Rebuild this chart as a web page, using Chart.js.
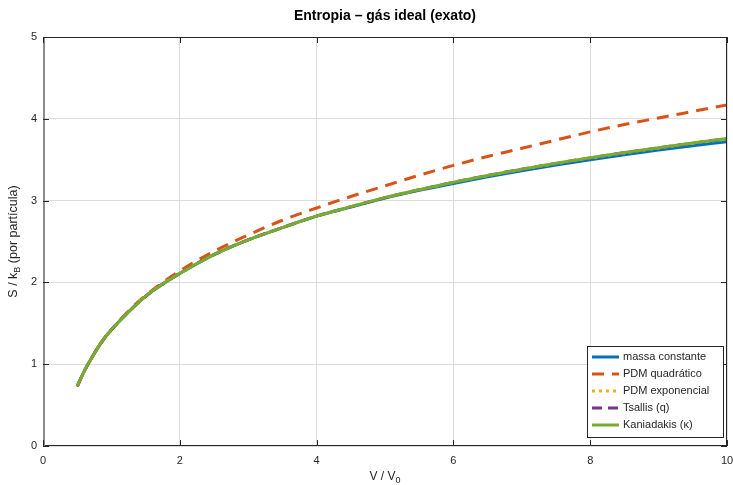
<!DOCTYPE html>
<html>
<head>
<meta charset="utf-8">
<script src="https://cdn.jsdelivr.net/npm/chart.js@4"></script>
<style>
  html, body { margin: 0; padding: 0; background: #fff; }
  #wrap { width: 733px; height: 485px; }
</style>
</head>
<body>
<div id="wrap"><canvas id="entropyChart"></canvas></div>
<script>
// values
const vRatio = [0.5, 0.6, 0.7, 0.8, 0.9, 1, 1.25, 1.5, 1.75, 2, 2.5, 3, 3.5, 4, 4.5, 5, 5.5, 6, 6.5, 7, 7.5, 8, 8.5, 9, 9.5, 10];
const sMassa = [0.73, 0.91, 1.06, 1.20, 1.32, 1.42, 1.64, 1.83, 1.98, 2.11, 2.34, 2.52, 2.67, 2.81, 2.92, 3.03, 3.125, 3.21, 3.29, 3.366, 3.435, 3.50, 3.56, 3.617, 3.67, 3.72];
const sPdmQuad = [0.73, 0.91, 1.06, 1.20, 1.32, 1.42, 1.65, 1.84, 2.00, 2.14, 2.38, 2.58, 2.76, 2.91, 3.05, 3.18, 3.31, 3.43, 3.54, 3.64, 3.74, 3.84, 3.93, 4.01, 4.09, 4.17];
const sPdmExp = [0.73, 0.91, 1.06, 1.20, 1.32, 1.42, 1.64, 1.83, 1.98, 2.11, 2.34, 2.52, 2.67, 2.81, 2.925, 3.035, 3.132, 3.222, 3.305, 3.381, 3.453, 3.52, 3.583, 3.642, 3.699, 3.753];
const sTsallis = [0.73, 0.91, 1.06, 1.20, 1.32, 1.42, 1.64, 1.83, 1.98, 2.11, 2.34, 2.52, 2.67, 2.81, 2.925, 3.035, 3.133, 3.223, 3.306, 3.383, 3.455, 3.522, 3.586, 3.645, 3.702, 3.756];
const sKaniadakis = [0.73, 0.91, 1.06, 1.20, 1.32, 1.42, 1.64, 1.83, 1.98, 2.11, 2.34, 2.52, 2.67, 2.81, 2.926, 3.036, 3.133, 3.224, 3.307, 3.384, 3.456, 3.523, 3.587, 3.647, 3.704, 3.758];
const xTicks = [0, 2, 4, 6, 8, 10];
const yTicks = [0, 1, 2, 3, 4, 5];

const FONT = '"Liberation Sans", Arial, sans-serif';
const pts = arr => vRatio.map((v, i) => ({ x: v, y: arr[i] }));

function series(label, arr, color, dash, order) {
  return {
    label: label,
    data: pts(arr),
    borderColor: color,
    backgroundColor: color,
    borderWidth: 3,
    borderDash: dash,
    pointRadius: 0,
    cubicInterpolationMode: 'monotone',
    order: order
  };
}

// box, inner ticks, titles and legend drawn by hand (octave look)
const decorPlugin = {
  id: 'decor',
  afterDraw(chart) {
    const ctx = chart.ctx;
    const a = chart.chartArea;
    const xs = chart.scales.x, ys = chart.scales.y;
    ctx.save();

    // axes box
    ctx.strokeStyle = '#262626';
    ctx.lineWidth = 1;
    ctx.setLineDash([]);
    ctx.strokeRect(a.left + 0.5, a.top + 0.5, a.right - a.left - 1, a.bottom - a.top - 1);
    ctx.strokeStyle = '#8c8c8c';
    ctx.lineWidth = 2;
    ctx.beginPath();
    ctx.moveTo(a.left + 1, a.top);
    ctx.lineTo(a.left + 1, a.bottom);
    ctx.stroke();

    // inner ticks
    ctx.strokeStyle = '#262626';
    ctx.lineWidth = 1;
    ctx.beginPath();
    xTicks.forEach(t => {
      const px = Math.round(xs.getPixelForValue(t)) + 0.5;
      ctx.moveTo(px, a.bottom); ctx.lineTo(px, a.bottom - 6);
      ctx.moveTo(px, a.top); ctx.lineTo(px, a.top + 6);
    });
    yTicks.forEach(t => {
      const py = Math.round(ys.getPixelForValue(t)) + 0.5;
      ctx.moveTo(a.left, py); ctx.lineTo(a.left + 6, py);
      ctx.moveTo(a.right, py); ctx.lineTo(a.right - 6, py);
    });
    ctx.stroke();

    // tick labels
    ctx.fillStyle = '#262626';
    ctx.font = '11px ' + FONT;
    ctx.textAlign = 'center';
    ctx.textBaseline = 'middle';
    xTicks.forEach(t => ctx.fillText(String(t), xs.getPixelForValue(t), a.bottom + 15));
    ctx.textAlign = 'right';
    yTicks.forEach(t => ctx.fillText(String(t), a.left - 6, ys.getPixelForValue(t)));

    // title
    ctx.font = 'bold 14px ' + FONT;
    ctx.textAlign = 'center';
    ctx.fillStyle = '#000';
    ctx.fillText('Entropia – gás ideal (exato)', (a.left + a.right) / 2, 16);

    // x label
    ctx.fillStyle = '#262626';
    ctx.font = '12px ' + FONT;
    ctx.textAlign = 'left';
    const xl1 = 'V / V';
    const w1 = ctx.measureText(xl1).width;
    ctx.font = '9px ' + FONT;
    const w2 = ctx.measureText('0').width;
    let x0 = (a.left + a.right) / 2 - (w1 + w2) / 2;
    ctx.font = '12px ' + FONT;
    ctx.fillText(xl1, x0, a.bottom + 31);
    ctx.font = '9px ' + FONT;
    ctx.fillText('0', x0 + w1, a.bottom + 35);

    // y label (rotated, with subscript)
    ctx.save();
    ctx.translate(14, (a.top + a.bottom) / 2);
    ctx.rotate(-Math.PI / 2);
    const p1 = 'S / k', p2 = 'B', p3 = ' (por partícula)';
    ctx.font = '12.5px ' + FONT;
    const q1 = ctx.measureText(p1).width, q3 = ctx.measureText(p3).width;
    ctx.font = '9px ' + FONT;
    const q2 = ctx.measureText(p2).width;
    let yx = -(q1 + q2 + q3) / 2;
    ctx.font = '12.5px ' + FONT;
    ctx.fillText(p1, yx, 0);
    ctx.font = '9px ' + FONT;
    ctx.fillText(p2, yx + q1, 4);
    ctx.font = '12.5px ' + FONT;
    ctx.fillText(p3, yx + q1 + q2, 0);
    ctx.restore();

    // legend
    const lx = a.right - 140, ly = a.bottom - 100, lw = 136, lh = 91;
    ctx.fillStyle = '#fff';
    ctx.fillRect(lx, ly, lw, lh);
    ctx.strokeStyle = '#262626';
    ctx.lineWidth = 1;
    ctx.strokeRect(lx + 0.5, ly + 0.5, lw, lh);
    ctx.font = '11px ' + FONT;
    ctx.textBaseline = 'middle';
    chart.data.datasets.forEach((ds, i) => {
      const ry = ly + 11 + i * 17;
      ctx.strokeStyle = ds.borderColor;
      ctx.lineWidth = 3;
      ctx.setLineDash(ds.borderDash || []);
      ctx.beginPath();
      ctx.moveTo(lx + 5, ry);
      ctx.lineTo(lx + 32, ry);
      ctx.stroke();
      ctx.fillStyle = '#262626';
      ctx.fillText(ds.label, lx + 36, ry);
    });
    ctx.restore();
  }
};

new Chart(document.getElementById('entropyChart'), {
  type: 'line',
  data: {
    datasets: [
      series('massa constante', sMassa, '#0072BD', [], 5),
      series('PDM quadrático', sPdmQuad, '#D95319', [12, 8], 4),
      series('PDM exponencial', sPdmExp, '#EDB120', [3, 4], 3),
      series('Tsallis (q)', sTsallis, '#7E2F8E', [10, 6], 2),
      series('Kaniadakis (κ)', sKaniadakis, '#77AC30', [], 1)
    ]
  },
  options: {
    responsive: true,
    maintainAspectRatio: false,
    animation: false,
    layout: { padding: { top: 37, right: 6, left: 0, bottom: 0 } },
    plugins: {
      legend: { display: false },
      title: { display: false },
      tooltip: { enabled: false }
    },
    scales: {
      x: {
        type: 'linear',
        min: 0, max: 10,
        afterFit: s => { s.height = 39; },
        afterBuildTicks: s => { s.ticks = xTicks.map(v => ({ value: v })); },
        grid: { color: '#dcdcdc', drawTicks: false },
        border: { display: false },
        ticks: { display: false }
      },
      y: {
        min: 0, max: 5,
        afterFit: s => { s.width = 43; },
        afterBuildTicks: s => { s.ticks = yTicks.map(v => ({ value: v })); },
        grid: { color: '#dcdcdc', drawTicks: false },
        border: { display: false },
        ticks: { display: false }
      }
    }
  },
  plugins: [decorPlugin]
});
</script>
</body>
</html>
